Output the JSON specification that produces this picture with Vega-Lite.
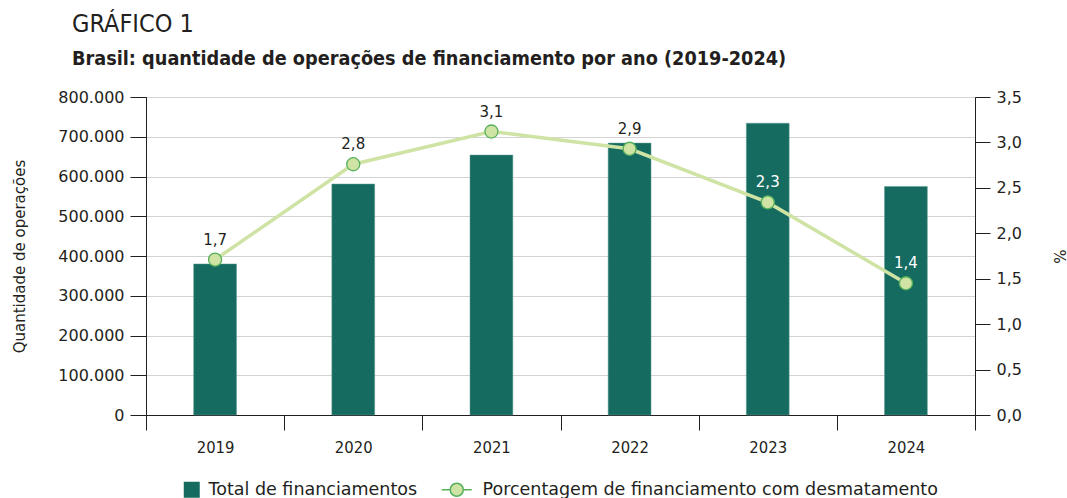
{
  "$schema": "https://vega.github.io/schema/vega-lite/v6.json",
  "autosize": {"type": "none"},
  "padding": {"left": 146, "top": 97, "right": 92, "bottom": 83},
  "width": 829,
  "height": 318,
  "background": "white",
  "config": {
    "locale": {"number": {"decimal": ",", "thousands": ".", "grouping": [3], "currency": ["R$", ""]}},
    "view": {"stroke": "#231f20", "strokeWidth": 1},
    "font": "DejaVu Sans",
    "legend": {"layout": {"bottom": {"anchor": "middle", "direction": "horizontal", "margin": 30}}},
    "axis": {"labelColor": "#231f20", "titleColor": "#231f20", "labelFont": "DejaVu Sans", "titleFont": "DejaVu Sans", "labelFontSize": 16, "titleFontSize": 15, "titleFontWeight": "normal", "domainColor": "#231f20", "tickColor": "#231f20"}
  },
  "title": {
    "text": "GRÁFICO 1",
    "subtitle": "Brasil: quantidade de operações de financiamento por ano (2019-2024)",
    "anchor": "start",
    "frame": "group",
    "dx": -74,
    "font": "DejaVu Sans Condensed, DejaVu Sans",
    "fontSize": 25,
    "fontWeight": 200,
    "color": "#231f20",
    "subtitleFont": "DejaVu Sans Condensed, DejaVu Sans",
    "subtitleFontSize": 19.7,
    "subtitleFontWeight": "bold",
    "subtitleColor": "#231f20",
    "subtitlePadding": 12,
    "offset": 20
  },
  "data": {
    "values": [
      {"ano": "2019", "total": 380000, "pct": 1.71},
      {"ano": "2020", "total": 581000, "pct": 2.76},
      {"ano": "2021", "total": 654000, "pct": 3.12},
      {"ano": "2022", "total": 684000, "pct": 2.93},
      {"ano": "2023", "total": 734000, "pct": 2.34},
      {"ano": "2024", "total": 575000, "pct": 1.45}
    ]
  },
  "encoding": {
    "x": {
      "field": "ano", "type": "nominal", "title": null,
      "scale": {"paddingInner": 0, "paddingOuter": 0},
      "axis": {"labelAngle": 0, "tickBand": "extent", "tickSize": 15, "labelPadding": 9, "labelFont": "DejaVu Sans Condensed, DejaVu Sans", "labelFontSize": 16.5, "domain": true}
    }
  },
  "layer": [
    {
      "mark": {"type": "bar", "width": {"band": 0.31}, "stroke": "#5f9a90", "strokeWidth": 0.5},
      "encoding": {
        "y": {
          "field": "total", "type": "quantitative",
          "title": "Quantidade de operações",
          "scale": {"domain": [0, 800000], "nice": false},
          "axis": {"format": ",.0f", "values": [0,100000,200000,300000,400000,500000,600000,700000,800000], "labelOverlap": false, "tickSize": 16, "labelPadding": 6, "titlePadding": 30, "grid": true, "gridColor": "#d3d3d3", "gridWidth": 1.2}
        },
        "color": {
          "datum": "Total de financiamentos",
          "type": "nominal",
          "scale": {"range": ["#166b61"]},
          "legend": {
            "orient": "bottom", "direction": "horizontal", "title": null,
            "labelFont": "DejaVu Sans", "labelFontSize": 17.5, "labelColor": "#231f20",
            "labelLimit": 700, "symbolType": "square", "symbolSize": 256, "offset": 25, "labelOffset": 8, "symbolStrokeWidth": 0
          }
        }
      }
    },
    {
      "layer": [
        {
          "mark": {"type": "line", "strokeWidth": 3.5, "color": "#cfe3a5"},
          "encoding": {
            "y": {
              "field": "pct", "type": "quantitative", "title": "%",
              "scale": {"domain": [0, 3.5], "nice": false},
              "axis": {"orient": "right", "format": ".1f", "values": [0,0.5,1,1.5,2,2.5,3,3.5], "labelOverlap": false, "tickSize": 15, "labelPadding": 6, "titlePadding": 29, "grid": false}
            }
          }
        },
        {
          "mark": {"type": "point", "filled": false, "fill": "#cfe3a5", "fillOpacity": 1, "strokeWidth": 1.3, "size": 170, "opacity": 1},
          "encoding": {
            "y": {"field": "pct", "type": "quantitative"},
            "stroke": {
              "datum": "Porcentagem de financiamento com desmatamento",
              "type": "nominal",
              "scale": {"range": ["#56b05a"]},
              "legend": {
                "orient": "bottom", "direction": "horizontal", "title": null,
                "labelFont": "DejaVu Sans", "labelFontSize": 17.5, "labelColor": "#231f20",
                "labelLimit": 700, "symbolType": "M-2.3,0H-1M1,0H2.3M-1,0A1,1 0 1,1 1,0A1,1 0 1,1 -1,0Z",
                "symbolSize": 169, "symbolFillColor": "#cfe3a5", "symbolStrokeWidth": 1.5, "offset": 25, "labelOffset": 17
              }
            }
          }
        },
        {
          "mark": {"type": "text", "dy": -20, "fontSize": 15, "font": "DejaVu Sans"},
          "encoding": {
            "y": {"field": "pct", "type": "quantitative"},
            "text": {"field": "pct", "type": "quantitative", "format": ".1f"},
            "color": {"condition": {"test": "datum.ano >= '2023'", "value": "white"}, "value": "#231f20"}
          }
        }
      ]
    }
  ],
  "resolve": {"scale": {"y": "independent"}}
}
